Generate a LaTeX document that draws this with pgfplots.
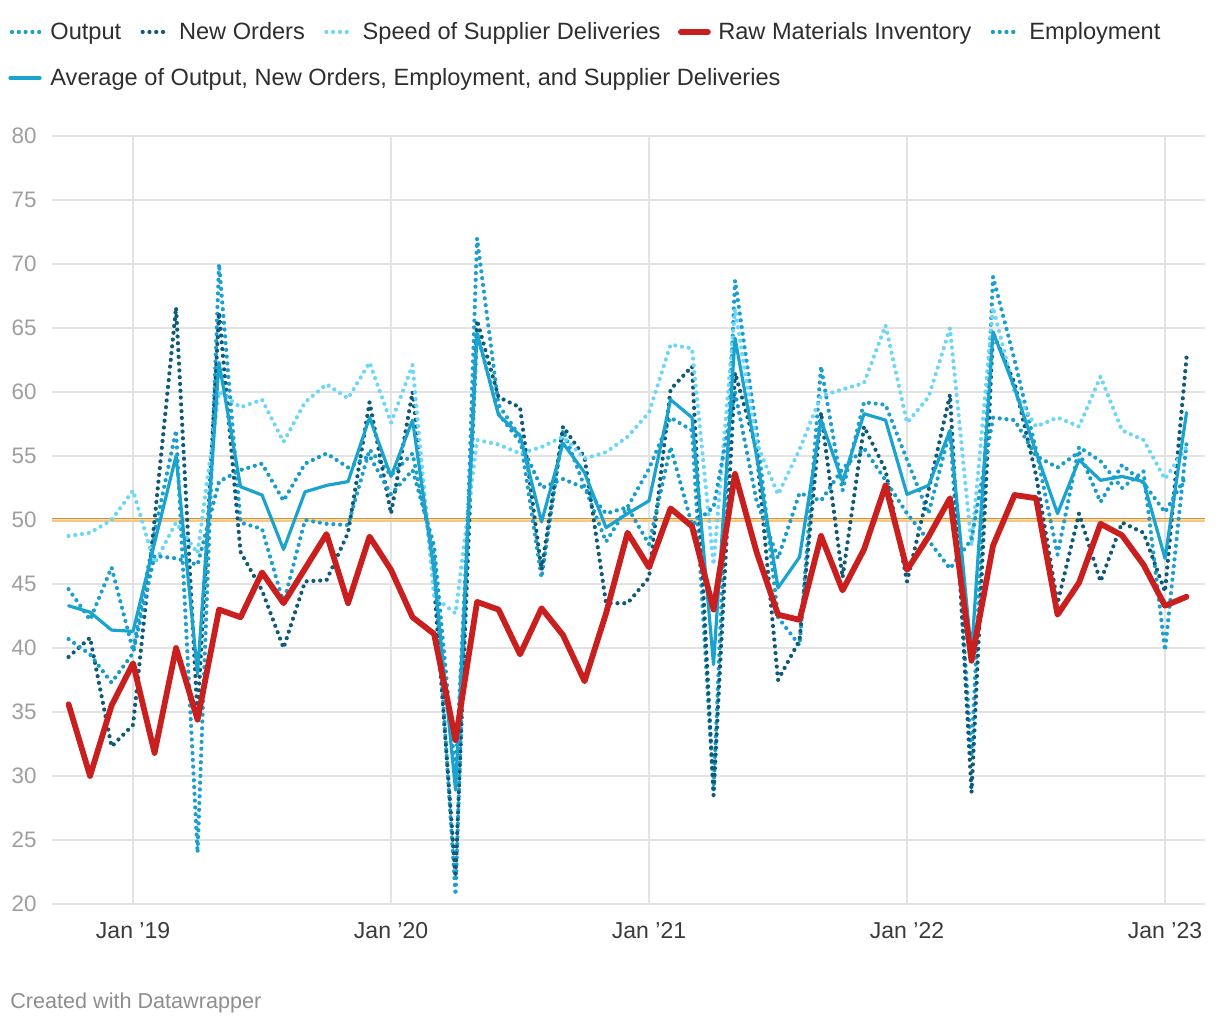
\documentclass[border=0pt]{standalone}
\usepackage{fontspec}
\setmainfont{Liberation Sans}
\usepackage{pgfplots}
\usepackage{pgfplotstable}
\pgfplotsset{compat=1.18}
\definecolor{cOut}{HTML}{1A9FD0}
\definecolor{cNew}{HTML}{0E5A78}
\definecolor{cSup}{HTML}{6BD6F8}
\definecolor{cRaw}{HTML}{C91F1F}
\definecolor{cEmp}{HTML}{179BCB}
\definecolor{cAvg}{HTML}{1BA3D0}
\definecolor{gridc}{HTML}{E3E3E3}
\definecolor{ylab}{HTML}{9E9E9E}
\definecolor{xlab}{HTML}{3A3A3A}
\definecolor{legt}{HTML}{2E2E2E}
\definecolor{refA}{HTML}{F28C00}
\definecolor{refB}{HTML}{F4C88A}

\pgfplotstableread{
m O N S R E A
-3 44.6 39.3 48.75 35.6 40.7 43.3
-2 42.2 40.8 49.0 30.0 39.5 42.8
-1 46.3 32.3 50.0 35.5 37.3 41.4
0 39.8 34.0 52.3 38.8 39.6 41.3
1 49.0 50.0 46.6 31.8 47.2 48.2
2 57.0 66.6 49.8 40.0 47.0 55.0
3 24.0 34.6 47.4 34.4 46.5 38.0
4 70.0 66.2 60.0 43.0 53.0 62.3
5 49.8 47.5 58.8 42.4 53.9 52.6
6 49.3 44.5 59.4 45.9 54.4 51.95
7 43.5 40.0 56.1 43.5 51.5 47.7
8 50.0 45.2 59.2 46.2 54.4 52.2
9 49.7 45.3 60.6 48.9 55.2 52.7
10 49.6 49.0 59.5 43.5 54.1 53.0
11 55.5 59.2 62.3 48.7 55.0 58.0
12 53.5 50.5 57.6 46.1 52.0 53.4
13 55.2 60.0 62.1 42.4 53.9 57.8
14 47.0 45.0 44.0 41.1 48.0 46.0
15 20.7 22.1 42.7 32.8 30.0 28.9
16 72.0 65.6 56.25 43.6 64.6 64.6
17 59.0 59.6 55.9 43.0 58.3 58.2
18 56.5 58.8 55.2 39.5 56.1 56.6
19 45.5 46.1 55.7 43.1 52.5 49.85
20 57.0 57.3 56.5 41.0 53.2 56.0
21 52.6 54.9 54.8 37.4 52.5 53.7
22 48.3 43.5 55.3 42.7 50.5 49.4
23 51.0 43.5 56.5 49.0 51.0 50.5
24 54.0 45.5 58.4 46.3 48.1 51.5
25 58.0 60.2 63.7 50.9 55.7 59.4
26 57.0 62.0 63.4 49.5 49.6 58.0
27 28.9 28.5 46.5 43.0 51.0 38.7
28 68.7 61.5 66.5 53.6 60.0 64.2
29 57.0 55.5 56.0 47.5 51.5 55.0
30 42.4 37.5 52.0 42.6 47.0 44.7
31 40.2 40.6 55.5 42.2 52.1 47.1
32 62.0 58.4 59.7 48.75 51.5 57.8
33 52.3 45.5 60.2 44.5 54.0 53.0
34 59.2 57.3 60.7 47.7 55.6 58.3
35 59.0 53.9 65.2 52.7 53.1 57.8
36 54.7 45.2 57.6 46.1 50.5 52.0
37 50.5 52.3 59.6 48.7 48.4 52.7
38 57.0 59.8 65.0 51.7 46.2 57.0
39 31.5 28.7 48.0 39.0 48.5 39.5
40 69.0 64.6 66.6 48.0 58.0 64.7
41 62.5 60.7 60.0 51.95 57.8 60.3
42 55.5 53.5 57.3 51.7 55.0 55.3
43 47.3 43.5 58.0 42.6 54.1 50.5
44 55.7 50.5 57.3 45.1 55.3 54.7
45 54.6 45.2 61.2 49.7 51.4 53.1
46 52.5 49.8 57.0 48.8 54.3 53.4
47 53.8 49.0 56.25 46.5 52.9 53.0
48 39.8 44.4 53.2 43.3 50.6 47.0
49 56.0 62.7 55.7 44.0 53.5 58.4
}\data

\tikzset{
  dotl/.style={line width=2.1pt, dash pattern=on 0pt off 3.4pt, line cap=round},
  avgl/.style={line width=1.6pt, line join=round, line cap=round, cAvg},
  rawl/.style={line width=2.9pt, line join=round, line cap=round, cRaw},
}

\begin{document}
\begin{tikzpicture}[x=1pt,y=1pt]
\path[use as bounding box] (0,0) rectangle (610,510);
\begin{axis}[
  at={(26pt,58pt)}, anchor=south west,
  scale only axis, width=576.5pt, height=384pt,
  xmin=-3.77, xmax=49.86, ymin=20, ymax=80,
  axis line style={draw=none},
  xtick={0,12,24,36,48},
  xticklabels={Jan ’19,Jan ’20,Jan ’21,Jan ’22,Jan ’23},
  ytick={20,25,...,80},
  xmajorgrids, ymajorgrids,
  grid style={gridc, line width=0.9pt},
  xtick style={draw=none},
  ytick style={draw=none},
  /pgf/number format/assume math mode=true,
  xticklabel style={anchor=north, inner sep=0pt, yshift=-9pt, font=\fontsize{11.5}{13}\selectfont, text=xlab},
  yticklabel style={anchor=east, inner sep=0pt, xshift=-7.5pt, font=\fontsize{11.2}{13}\selectfont, text=ylab},
  clip=false,
]
\addplot[refA, line width=0.8pt] coordinates {(-3.77,50.12) (49.86,50.12)};
\addplot[refB, line width=0.6pt] coordinates {(-3.77,49.92) (49.86,49.92)};
\addplot[dotl, cOut] table[x=m,y=O]{\data};
\addplot[dotl, cNew] table[x=m,y=N]{\data};
\addplot[dotl, cSup] table[x=m,y=S]{\data};
\addplot[dotl, cEmp] table[x=m,y=E]{\data};
\addplot[avgl] table[x=m,y=A]{\data};
\addplot[rawl] table[x=m,y=R]{\data};
\end{axis}
% legend
\begin{scope}[every node/.style={anchor=base west, inner sep=0pt, font=\fontsize{11.8}{14}\selectfont, text=legt}]
\draw[dotl, cOut] (6,494) -- (20,494);
\node (t1) at (25,490) {Output};
\draw[dotl, cNew] ([xshift=10.5pt]t1.base east |- 0,494) -- ([xshift=23.5pt]t1.base east |- 0,494);
\node (t2) at ([xshift=28.5pt]t1.base east) {New Orders};
\draw[dotl, cSup] ([xshift=10.5pt]t2.base east |- 0,494) -- ([xshift=23.5pt]t2.base east |- 0,494);
\node (t3) at ([xshift=28.5pt]t2.base east) {Speed of Supplier Deliveries};
\draw[rawl] ([xshift=10pt]t3.base east |- 0,494) -- ([xshift=23.5pt]t3.base east |- 0,494);
\node (t4) at ([xshift=28.5pt]t3.base east) {Raw Materials Inventory};
\draw[dotl, cEmp] ([xshift=10.5pt]t4.base east |- 0,494) -- ([xshift=23.5pt]t4.base east |- 0,494);
\node (t5) at ([xshift=28.5pt]t4.base east) {Employment};
\draw[avgl] (5,471) -- (20,471);
\node (t6) at (25,467) {Average of Output, New Orders, Employment, and Supplier Deliveries};
\end{scope}
\node[anchor=base west, inner sep=0pt, font=\fontsize{10.8}{12}\selectfont, text=ylab!90!black] at (5,5.5) {Created with Datawrapper};
\end{tikzpicture}
\end{document}
